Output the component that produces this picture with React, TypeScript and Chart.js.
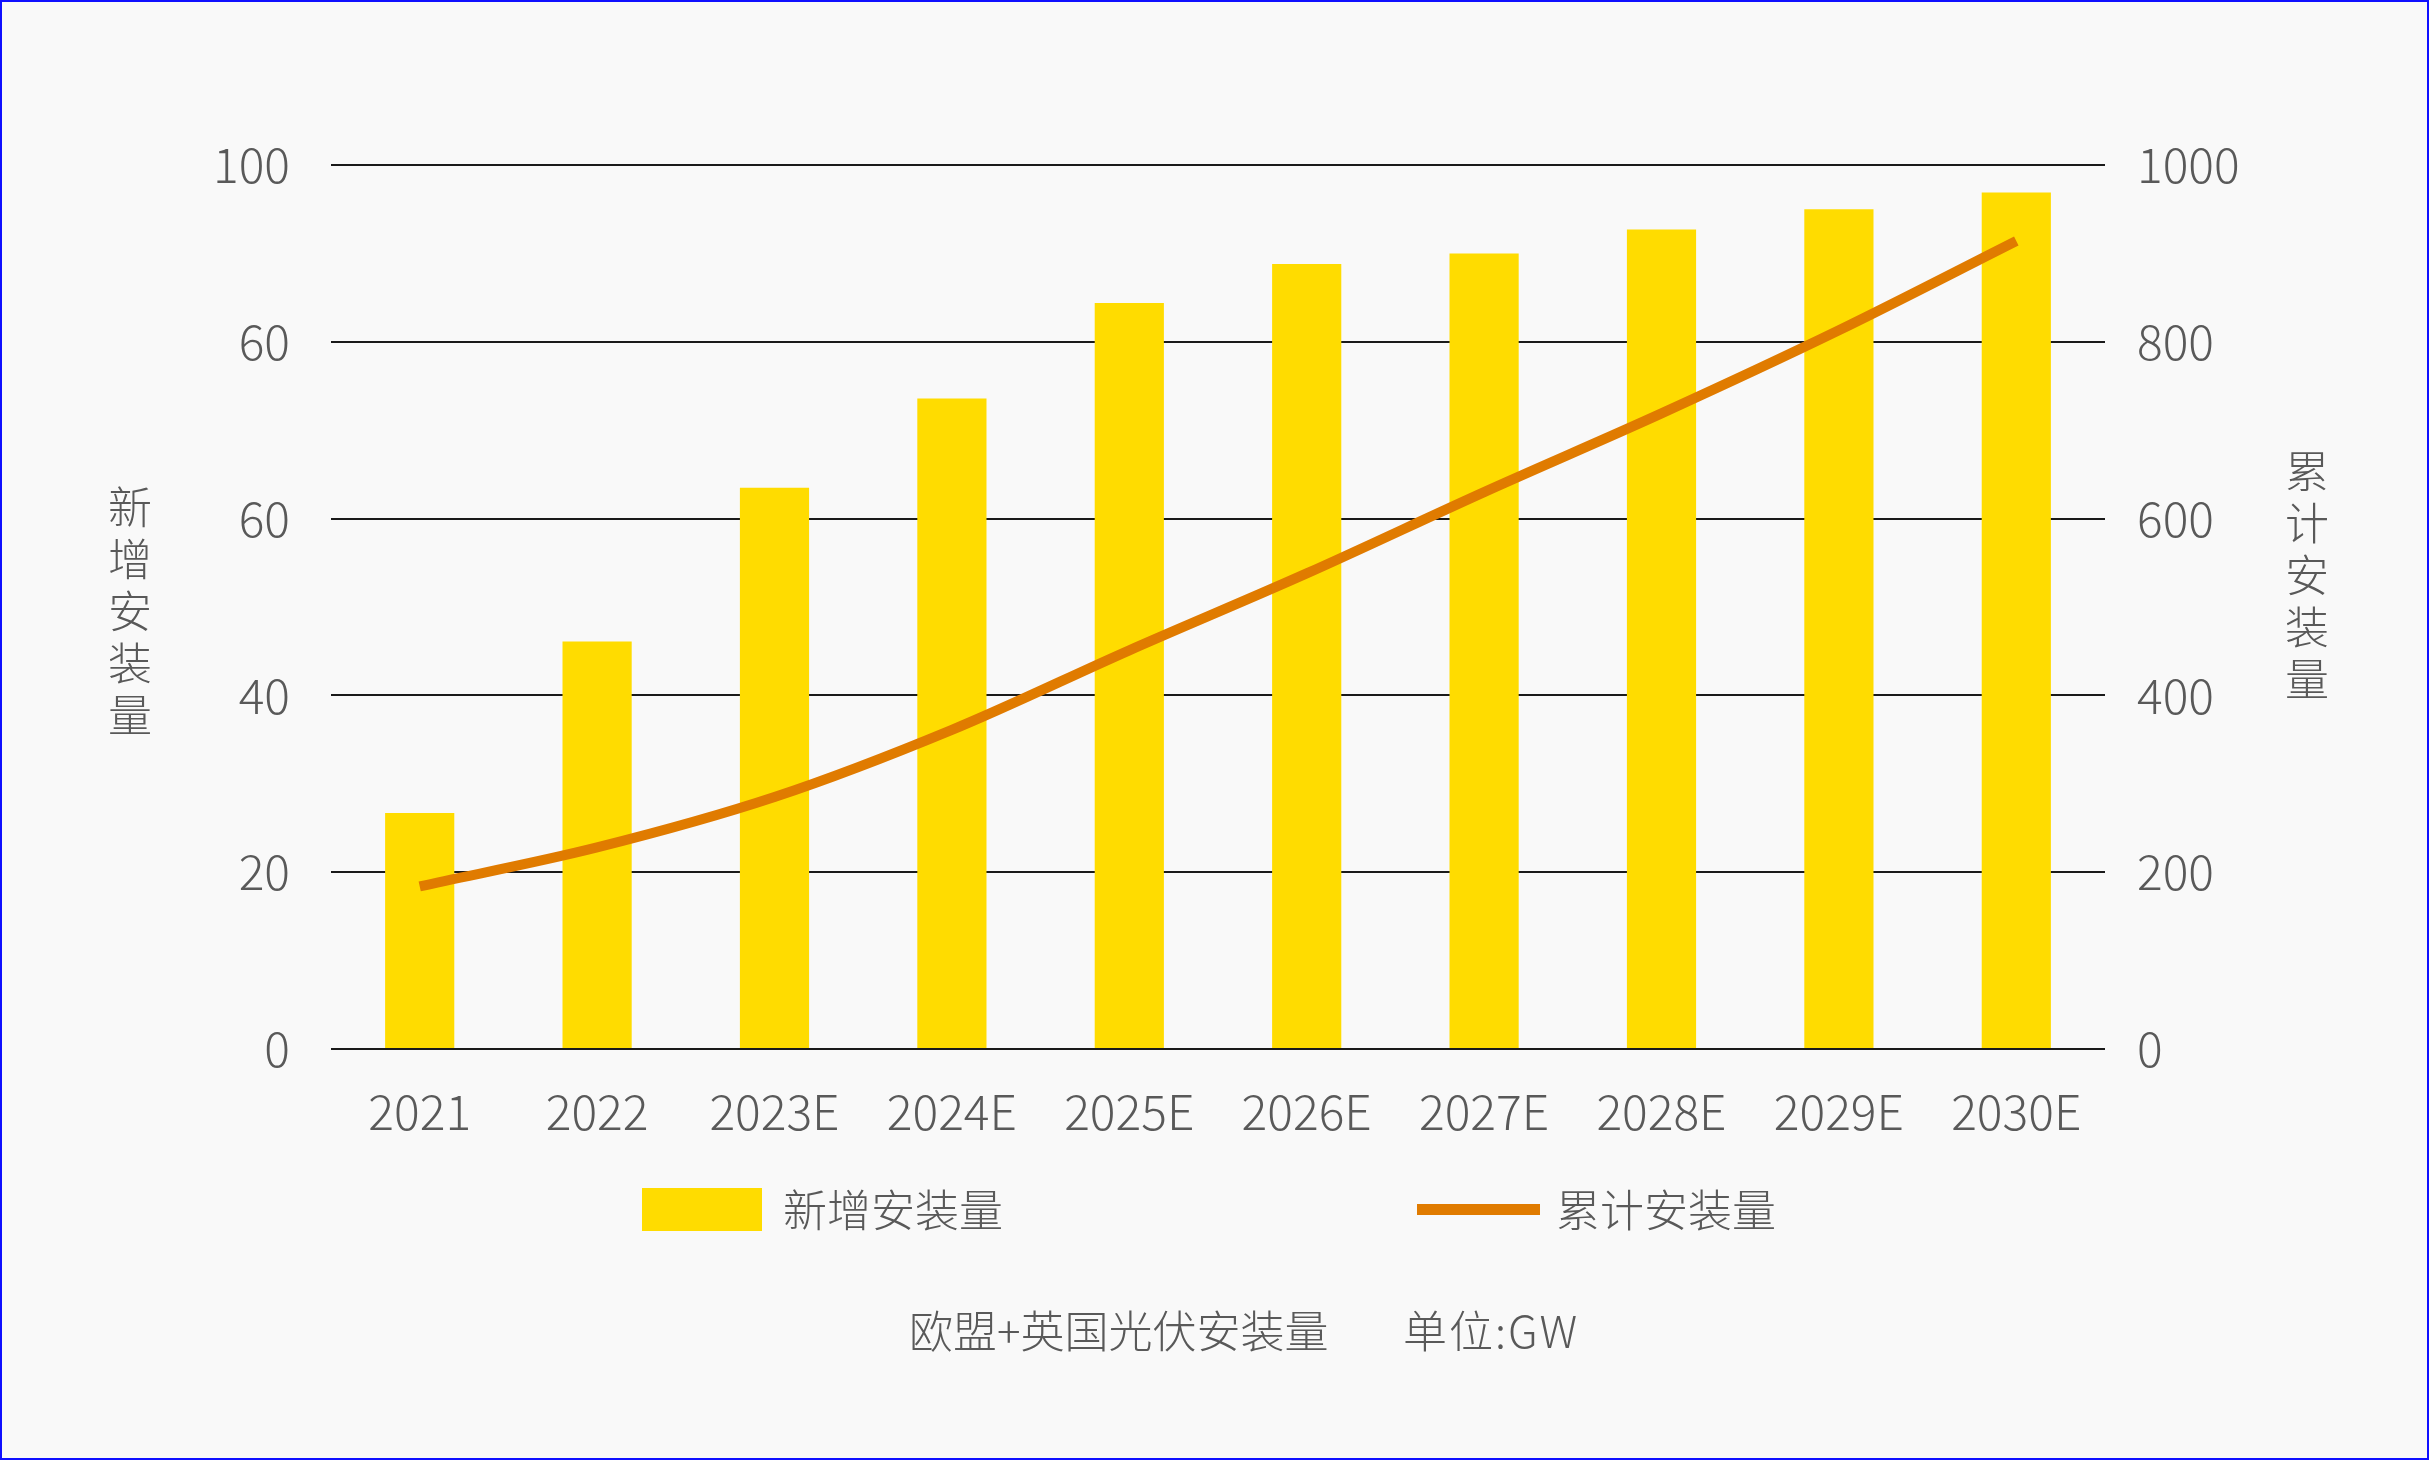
import React, { useEffect, useRef } from 'react';
import { Chart, registerables } from 'chart.js';

Chart.register(...registerables);

// ---- data ----
const categories = ['2021', '2022', '2023E', '2024E', '2025E', '2026E', '2027E', '2028E', '2029E', '2030E'];
const newInstall = [26.7, 46.1, 63.5, 73.6, 84.4, 88.8, 90.0, 92.7, 95.0, 96.9];
const cumulativeInstall = [184, 228, 285, 361, 451, 538, 630, 719, 813, 914];
const leftTickLabels = ['0', '20', '40', '60', '60', '100'];
const rightTickLabels = ['0', '200', '400', '600', '800', '1000'];
const seriesNames = ['新增安装量', '累计安装量'];
const leftAxisTitle = '新增安装量';
const rightAxisTitle = '累计安装量';
const captionMain = '欧盟+英国光伏安装量';
const captionUnit = '单位:GW';

// ---- styles ----
const FONT = '"Noto Sans CJK SC", "Noto Sans", sans-serif';
const TEXT = '#595959';
const BAR = '#FFDC00';
const LINE = '#E07B00';
const GRID = '#1a1a1a';

const W = 2425;
const H = 1456;

const overlayPlugin = {
  id: 'overlay',
  afterDraw(chart: any) {
    const ctx = chart.ctx as CanvasRenderingContext2D;
    const ds0 = chart.data.datasets[0];
    const ds1 = chart.data.datasets[1];
    ctx.save();
    ctx.fillStyle = TEXT;
    ctx.font = `300 44px ${FONT}`;
    ctx.textAlign = 'center';
    ctx.textBaseline = 'middle';
    Array.from(leftAxisTitle).forEach((ch, i) => ctx.fillText(ch, 128, 505 + i * 52));
    Array.from(rightAxisTitle).forEach((ch, i) => ctx.fillText(ch, 2305, 469 + i * 52));

    // legend
    ctx.fillStyle = ds0.backgroundColor;
    ctx.fillRect(640, 1186, 120, 43);
    ctx.strokeStyle = ds1.borderColor;
    ctx.lineWidth = 11;
    ctx.lineCap = 'butt';
    ctx.beginPath();
    ctx.moveTo(1415, 1207.5);
    ctx.lineTo(1538, 1207.5);
    ctx.stroke();

    ctx.fillStyle = TEXT;
    ctx.textAlign = 'left';
    ctx.fillText(ds0.label, 781, 1208);
    ctx.fillText(ds1.label, 1554, 1208);

    // caption
    ctx.fillText(captionMain, 907, 1329);
    ctx.save();
    (ctx as any).letterSpacing = '2px';
    ctx.fillText(captionUnit, 1401, 1329);
    ctx.restore();
    ctx.restore();
  },
};

export default function App() {
  const ref = useRef<HTMLCanvasElement | null>(null);

  useEffect(() => {
    if (!ref.current) return;
    const tickFont = { family: FONT, size: 48, weight: 300 as any };
    const chart = new Chart(ref.current, {
      type: 'bar',
      data: {
        labels: categories,
        datasets: [
          {
            type: 'bar',
            label: seriesNames[0],
            data: newInstall,
            backgroundColor: BAR,
            borderWidth: 0,
            barPercentage: 0.39,
            categoryPercentage: 1.0,
            yAxisID: 'y',
            order: 2,
          } as any,
          {
            type: 'line',
            label: seriesNames[1],
            data: cumulativeInstall,
            borderColor: LINE,
            backgroundColor: LINE,
            borderWidth: 10,
            borderCapStyle: 'butt',
            pointRadius: 0,
            pointHoverRadius: 0,
            cubicInterpolationMode: 'monotone',
            fill: false,
            yAxisID: 'y1',
            order: 1,
          } as any,
        ],
      },
      options: {
        responsive: false,
        maintainAspectRatio: false,
        devicePixelRatio: 1,
        animation: false,
        layout: { padding: { top: 163, left: 0, right: 0, bottom: 0 } },
        plugins: {
          legend: { display: false },
          tooltip: { enabled: false },
          title: { display: false },
        },
        scales: {
          x: {
            grid: { display: false },
            border: { display: false },
            ticks: { font: tickFont, color: TEXT, padding: 26, maxRotation: 0, autoSkip: false },
            afterFit: (s: any) => {
              s.height = 409;
            },
          },
          y: {
            position: 'left',
            min: 0,
            max: 100,
            grid: { color: GRID, lineWidth: 2, drawTicks: false },
            border: { display: false },
            ticks: {
              stepSize: 20,
              font: tickFont,
              color: TEXT,
              padding: 41,
              callback: (v: any) => leftTickLabels[Math.round(Number(v) / 20)],
            },
            afterFit: (s: any) => {
              s.width = 329;
            },
          },
          y1: {
            position: 'right',
            min: 0,
            max: 1000,
            grid: { display: false, drawTicks: false },
            border: { display: false },
            ticks: {
              stepSize: 200,
              font: tickFont,
              color: TEXT,
              padding: 32,
              callback: (v: any) => rightTickLabels[Math.round(Number(v) / 200)],
            },
            afterFit: (s: any) => {
              s.width = 322;
            },
          },
        } as any,
      },
      plugins: [overlayPlugin],
    });
    return () => chart.destroy();
  }, []);

  return (
    <div
      style={{
        position: 'fixed',
        left: 0,
        top: 0,
        width: 2429,
        height: 1460,
        boxSizing: 'border-box',
        border: '2px solid #1010ff',
        background: '#f9f9f9',
      }}
    >
      <canvas ref={ref} width={W} height={H} style={{ display: 'block', width: W, height: H }} />
    </div>
  );
}
